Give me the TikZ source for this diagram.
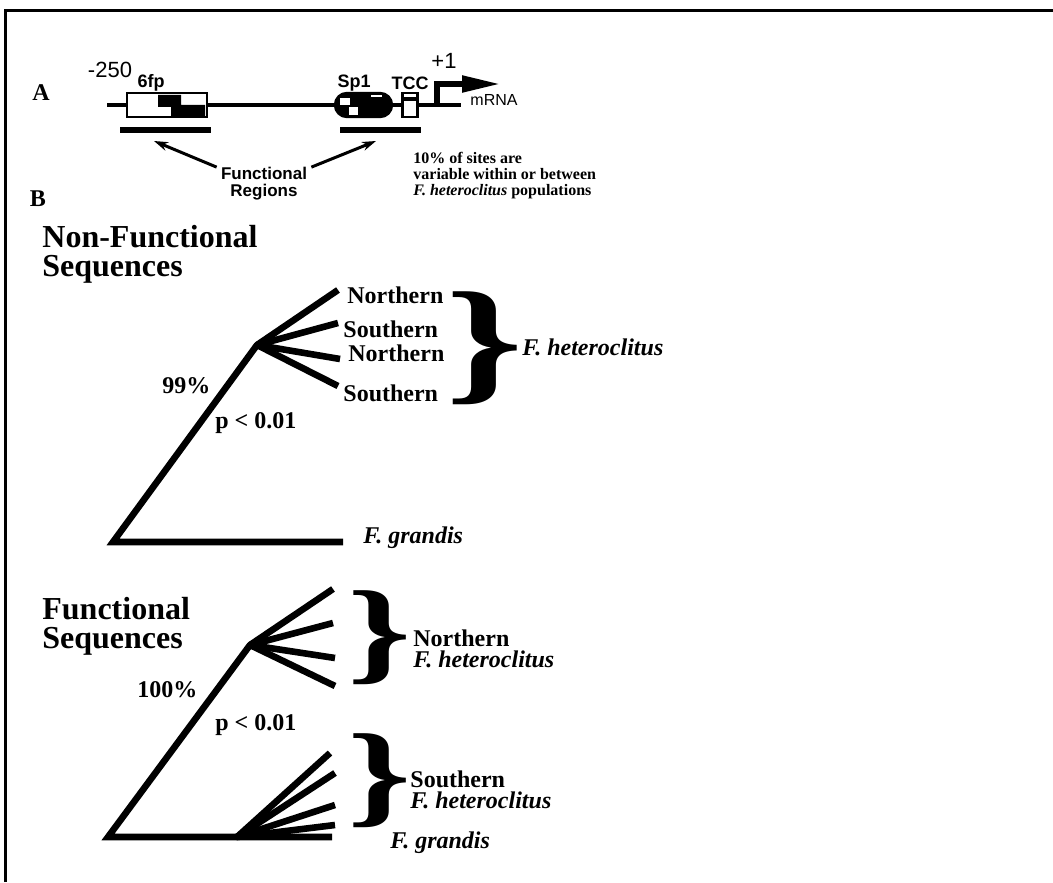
\documentclass[tikz,border=0pt]{standalone}
\usepackage{fontspec}
\setmainfont{Liberation Serif}
\setsansfont{Liberation Sans}
\usetikzlibrary{arrows.meta,positioning}

\newcommand{\curlybrace}[2]{\resizebox*{#1}{#2}{\bfseries\}}}

\begin{document}
\begin{tikzpicture}[x=0.5pt, y=-0.5pt,
      branch/.style={line width=3.3pt},
      hub/.style={circle, fill, inner sep=0pt, minimum size=3.3pt},
      taxon/.style={font=\fontsize{12}{12}\selectfont\bfseries,
                    inner sep=0pt, anchor=base west},
      species/.style={taxon, font=\fontsize{12}{12}\selectfont\bfseries\itshape},
      heading/.style={font=\fontsize{16}{14.5}\selectfont\bfseries,
                      align=left, inner sep=0pt, anchor=north west},
      panel/.style={font=\fontsize{12}{12}\selectfont\bfseries, inner sep=0pt},
      site/.style={font=\sffamily\bfseries\fontsize{9}{9}\selectfont, inner sep=0pt},
      ruler/.style={font=\sffamily\fontsize{11}{11}\selectfont, inner sep=0pt},
      elem/.style={draw, line width=1.2pt, inner sep=0pt, minimum height=12pt},
      note/.style={font=\fontsize{8}{8}\selectfont\bfseries,
                   align=left, inner sep=0pt, anchor=north west},
      pointer/.style={-{Stealth[length=7pt,width=4.5pt]}, line width=1.5pt}
  ]
    \useasboundingbox (0,0) rectangle (1053,882);
    \fill[white] (0,0) rectangle (1053,882);
    \draw[line width=1.5pt] (5.5,882) -- (5.5,10.5) -- (1053,10.5);

    % A: promoter
    \node[panel] (partA) at (41,93) {A};
    \coordinate (dnaL) at (107,105);
    \coordinate (dnaR) at (461,105);
    \draw[line width=1.6pt] (dnaL) -- (dnaR);
    \node[elem, fill=white, minimum width=40pt] (fp6) at (167,105) {};
    \fill (158,95) -- (181,95) -- (181,105) -- (205,105) -- (205,116)
          -- (171,116) -- (171,107) -- (158,107) -- cycle;
    \node[elem, fill=black, rounded corners=6pt, minimum width=28.5pt] (sp1) at (363.5,105) {};
    \fill[white] (340,98) rectangle (350,105);
    \fill[white] (349,107) rectangle (358,115);
    \fill[white] (371,95) rectangle (382,97.5);
    \node[elem, fill=white, minimum width=7.5pt] (tcc) at (410,105) {};
    \draw[line width=2pt] (402,99) -- (418,99);
    \node[ruler] (start) at (110,70) {-250};
    \node[site] (lab6fp) at (151,83) {6fp};
    \node[site] (labsp1) at (354,83) {Sp1};
    \node[site] (labtcc) at (410,83) {TCC};
    \node[ruler] (plus1) at (444,61) {+1};
    \coordinate (tss) at (437,106);
    \coordinate (mrnaTip) at (500,84);
    \draw[line width=2.6pt, -{Triangle[length=19pt,width=8pt]}] (tss) |- (mrnaTip);
    \node[font=\sffamily\fontsize{8}{8}\selectfont, inner sep=0pt] (mrna) at (494,100) {mRNA};
    \coordinate (bar1L) at (120,130); \coordinate (bar1R) at (211,130);
    \coordinate (bar2L) at (340,130); \coordinate (bar2R) at (421,130);
    \draw[line width=3pt] (bar1L) -- (bar1R);
    \draw[line width=3pt] (bar2L) -- (bar2R);
    \node[site, font=\sffamily\bfseries\fontsize{8.5}{8.5}\selectfont, align=center] (funcreg) at (264,184) {Functional\\Regions};
    \coordinate (tipL) at (154,141);
    \coordinate (tipR) at (376,141);
    \draw[pointer] ([xshift=-2pt]funcreg.north west) -- (tipL);
    \draw[pointer] ([xshift=2pt]funcreg.north east) -- (tipR);
    \node[note] (varnote) at (413,152) {10\% of sites are\\variable within or between\\\textit{F. heteroclitus} populations};

    % B: non-functional tree
    \node[panel] (partB) at (38,199) {B};
    \node[heading] (hd1) at (42,225) {Non-Functional\\Sequences};
    \coordinate (root1) at (113,542);
    \node[hub] (hub1) at (257,345) {};
    \coordinate (grandis1) at (343,542);
    \coordinate (leaf1a) at (338,290);
    \coordinate (leaf1b) at (338,323);
    \coordinate (leaf1c) at (340,359);
    \coordinate (leaf1d) at (338,386);
    \draw[branch] (grandis1) -- (root1) -- (hub1.center);
    \foreach \leaf in {1a,1b,1c,1d}
      \draw[branch] (hub1.center) -- (leaf\leaf);
    \node[taxon] (north1a) at (347,303) {Northern};
    \node[taxon] (south1a) at (343,337) {Southern};
    \node[taxon] (north1b) at (348,361) {Northern};
    \node[taxon] (south1b) at (343,401) {Southern};
    \node[inner sep=0pt] (brace1) at (485,348) {\curlybrace{39pt}{56.5pt}};
    \node[species] (het1) at (522,355) {F. heteroclitus};
    \node[species] (gra1) at (363,543) {F. grandis};
    \node[taxon] (boot1) at (162,393) {99\%};
    \node[taxon] (pval1) at (215,428) {p < 0.01};

    % B: functional tree
    \node[heading] (hd2) at (42,597) {Functional\\Sequences};
    \coordinate (root2) at (108,837);
    \node[hub] (hub2) at (250,645) {};
    \node[hub] (hub3) at (237,837) {};
    \coordinate (grandis2) at (332,837);
    \coordinate (leaf2a) at (333,589);
    \coordinate (leaf2b) at (333,623);
    \coordinate (leaf2c) at (335,658);
    \coordinate (leaf2d) at (335,686);
    \coordinate (leaf3a) at (330,753);
    \coordinate (leaf3b) at (335,773);
    \coordinate (leaf3c) at (335,805);
    \coordinate (leaf3d) at (335,825);
    \draw[branch] (hub2.center) -- (root2) -- (grandis2);
    \foreach \leaf in {2a,2b,2c,2d}
      \draw[branch] (hub2.center) -- (leaf\leaf);
    \foreach \leaf in {3a,3b,3c,3d}
      \draw[branch] (hub3.center) -- (leaf\leaf);
    \node[inner sep=0pt] (brace2) at (380,638) {\curlybrace{32pt}{47pt}};
    \node[inner sep=0pt] (brace3) at (380,781) {\curlybrace{32pt}{47pt}};
    \node[taxon] (north2) at (413,646) {Northern};
    \node[species] (het2) at (413,667) {F. heteroclitus};
    \node[taxon] (south2) at (410,787) {Southern};
    \node[species] (het3) at (410,808) {F. heteroclitus};
    \node[species] (gra2) at (390,848) {F. grandis};
    \node[taxon] (boot2) at (137,697) {100\%};
    \node[taxon] (pval2) at (215,730) {p < 0.01};
  \end{tikzpicture}
\end{document}
